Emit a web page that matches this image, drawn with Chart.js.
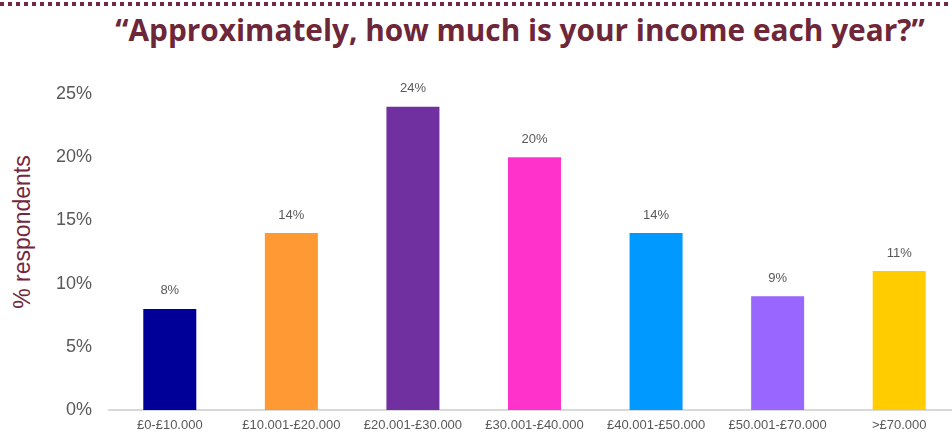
<!DOCTYPE html>
<html>
<head>
<meta charset="utf-8">
<script src="https://cdn.jsdelivr.net/npm/chart.js@4/dist/chart.umd.min.js"></script>
<style>
  html, body { margin: 0; padding: 0; background: #fff; overflow: hidden; }
  #page { position: relative; width: 952px; height: 432px; overflow: hidden; }
  #rule {
    position: absolute; left: 0; top: 2px; width: 952px; height: 4px;
    background: repeating-linear-gradient(to right, #722a3e 0 4px, transparent 4px 8px);
  }
  #title {
    position: absolute; left: 0; top: 8px; width: 1040px; text-align: center;
    font-family: "Open Sans", sans-serif; font-weight: 700; font-size: 29.8px;
    color: #6e2639; white-space: nowrap; line-height: 44px;
  }
  #ylabel {
    position: absolute; left: 22px; top: 232px; transform: translate(-50%, -50%) rotate(-90deg);
    font-family: "Liberation Sans", Arial, sans-serif; font-size: 23px; color: #76263c;
    white-space: nowrap;
  }
  #chart { position: absolute; left: 0; top: 0; display: block; }
</style>
</head>
<body>
<div id="page">
  <div id="rule"></div>
  <div id="title">“Approximately, how much is your income each year?”</div>
  <div id="ylabel">% respondents</div>
  <canvas id="chart" width="962" height="432"></canvas>
</div>
<script>
// Income bands and share of respondents (%)
const incomeBands = ["£0-£10.000", "£10.001-£20.000", "£20.001-£30.000", "£30.001-£40.000",
                     "£40.001-£50.000", "£50.001-£70.000", ">£70.000"];
const respondentShare = [8, 14, 24, 20, 14, 9, 11];
const bandColours = ["#000099", "#ff9933", "#7030a0", "#ff33cc", "#0099ff", "#9966ff", "#ffcc00"];
const yTickValues = [0, 5, 10, 15, 20, 25];

// Percentage labels above each bar
const valueLabels = {
  id: "valueLabels",
  afterDatasetsDraw(chart) {
    const ctx = chart.ctx;
    const meta = chart.getDatasetMeta(0);
    ctx.save();
    ctx.font = "13px 'Liberation Sans', Arial, sans-serif";
    ctx.fillStyle = "#595959";
    ctx.textAlign = "center";
    ctx.textBaseline = "middle";
    meta.data.forEach((bar, i) => {
      ctx.fillText(respondentShare[i] + "%", bar.x, bar.y - 18);
    });
    ctx.restore();
  }
};

new Chart(document.getElementById("chart"), {
  type: "bar",
  data: {
    labels: incomeBands,
    datasets: [{
      data: respondentShare,
      backgroundColor: bandColours,
      borderWidth: 0,
      categoryPercentage: 1,
      barPercentage: 0.436
    }]
  },
  options: {
    responsive: false,
    animation: false,
    layout: { padding: { top: 94, right: 2, bottom: 0, left: 0 } },
    plugins: { legend: { display: false }, tooltip: { enabled: false }, title: { display: false } },
    scales: {
      x: {
        grid: { display: false, drawTicks: false },
        border: { display: true, color: "#d9d9d9", width: 2 },
        ticks: {
          color: "#595959",
          font: { family: "'Liberation Sans', Arial, sans-serif", size: 13 },
          padding: 8,
          maxRotation: 0,
          autoSkip: false
        },
        afterFit(scale) { scale.height = 22; }
      },
      y: {
        min: 0,
        max: 25,
        grid: { display: false, drawTicks: false },
        border: { display: false },
        afterBuildTicks(scale) { scale.ticks = yTickValues.map(v => ({ value: v })); },
        ticks: {
          color: "#595959",
          font: { family: "'Liberation Sans', Arial, sans-serif", size: 18 },
          padding: 17,
          callback: v => v + "%"
        },
        afterFit(scale) {
          scale.width = 109;
          scale.paddingTop = 0;
          scale.paddingBottom = 0;
        }
      }
    }
  },
  plugins: [valueLabels]
});
</script>
</body>
</html>
